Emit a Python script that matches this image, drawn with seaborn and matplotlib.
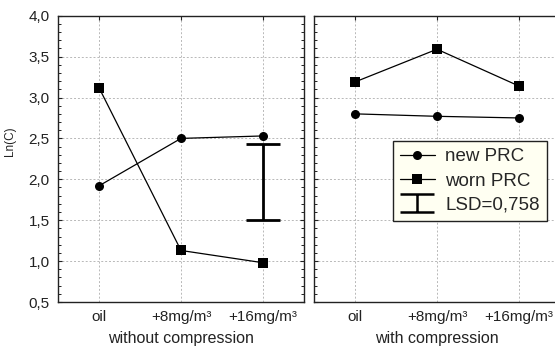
import pandas as pd
import numpy as np
import matplotlib
matplotlib.use('Agg')
import matplotlib.pyplot as plt
import seaborn as sns
from matplotlib.lines import Line2D
from matplotlib.path import Path
from matplotlib.ticker import MultipleLocator, FuncFormatter

# data
doses = ['oil', '+8mg/m³', '+16mg/m³']
panels = ['without compression', 'with compression']
new_prc_without = [1.92, 2.50, 2.53]
worn_prc_without = [3.12, 1.13, 0.98]
new_prc_with = [2.80, 2.77, 2.75]
worn_prc_with = [3.19, 3.59, 3.14]
lsd_low, lsd_high = 1.50, 2.43
lsd_label = 'LSD=0,758'

rows = []
for panel, new_vals, worn_vals in [(panels[0], new_prc_without, worn_prc_without),
                                   (panels[1], new_prc_with, worn_prc_with)]:
    for group, vals in [('new PRC', new_vals), ('worn PRC', worn_vals)]:
        for d, v in zip(doses, vals):
            rows.append({'panel': panel, 'group': group, 'dose': d, 'value': v})
df = pd.DataFrame(rows)

sns.set_style('white')
plt.rcParams['font.family'] = ['Liberation Sans', 'DejaVu Sans']

fig = plt.figure(figsize=(5.55, 3.52), dpi=100)
ax1 = fig.add_axes([58 / 555, 1 - 302 / 352, 246 / 555, 286.3 / 352])
ax2 = fig.add_axes([314 / 555, 1 - 302 / 352, 246 / 555, 286.3 / 352])

comma = FuncFormatter(lambda v, p: f'{v:.1f}'.replace('.', ','))

for ax, panel in zip([ax1, ax2], panels):
    sub = df[df['panel'] == panel]
    sns.lineplot(data=sub, x='dose', y='value', style='group', markers={'new PRC': 'o', 'worn PRC': 's'},
                 dashes=False, color='black', linewidth=0.9, markersize=7, markeredgewidth=0,
                 sort=False, legend=False, ax=ax)
    for line in ax.get_lines():
        if line.get_marker() == 'o':
            line.set_markersize(6.5)
    ax.set_xlim(-0.5, 2.5)
    ax.set_ylim(0.5, 4.0)
    ax.yaxis.set_major_locator(MultipleLocator(0.5))
    ax.yaxis.set_minor_locator(MultipleLocator(0.1))
    ax.yaxis.set_major_formatter(comma)
    ax.grid(True, which='major', color='#b8b8b8', linestyle=(0, (2, 2)), linewidth=0.7)
    ax.set_axisbelow(True)
    for s in ax.spines.values():
        s.set_color('#222222')
        s.set_linewidth(1.0)
    ax.tick_params(axis='both', which='major', direction='in', length=3, width=0.8,
                   labelsize=11, pad=6, colors='#222222')
    ax.tick_params(axis='y', which='minor', direction='in', length=2, width=0.7, colors='#222222')
    ax.tick_params(axis='x', top=True)
    ax.tick_params(axis='y', which='both', left=True, right=True)
    ax.set_xlabel(panel, fontsize=11.5, labelpad=5, color='#222222')
    ax.set_ylabel('')

ax1.set_ylabel('Ln(C)', fontsize=8.5, color='#222222')
ax1.yaxis.set_label_coords(-0.17, 0.56)
ax2.tick_params(axis='y', which='both', labelleft=False)

# LSD bar
ax1.errorbar([doses[2]], [(lsd_low + lsd_high) / 2], yerr=[(lsd_high - lsd_low) / 2], fmt='none',
             ecolor='black', elinewidth=2.0, capsize=12.5, capthick=2.0)

ibeam = Path([(-1, 0.5), (1, 0.5), (0, 0.5), (0, -0.5), (-1, -0.5), (1, -0.5)],
             [Path.MOVETO, Path.LINETO, Path.MOVETO, Path.LINETO, Path.MOVETO, Path.LINETO])
handles = [
    Line2D([], [], color='black', linewidth=0.9, marker='o', markersize=6.5, markeredgewidth=0),
    Line2D([], [], color='black', linewidth=0.9, marker='s', markersize=7, markeredgewidth=0),
    Line2D([], [], color='black', linestyle='none', marker=ibeam, markersize=25, markeredgewidth=1.8,
           fillstyle='none'),
]
leg = ax2.legend(handles, ['new PRC', 'worn PRC', lsd_label], loc='upper left',
                 bbox_to_anchor=(0.321, 0.562), borderaxespad=0, fontsize=13.5, frameon=True,
                 fancybox=False, edgecolor='#222222', facecolor='#fffff2', framealpha=1,
                 handlelength=1.85, handletextpad=0.55, borderpad=0.38, labelspacing=0.38)
leg.get_frame().set_linewidth(1.0)

fig.savefig('out.png', dpi=100)
